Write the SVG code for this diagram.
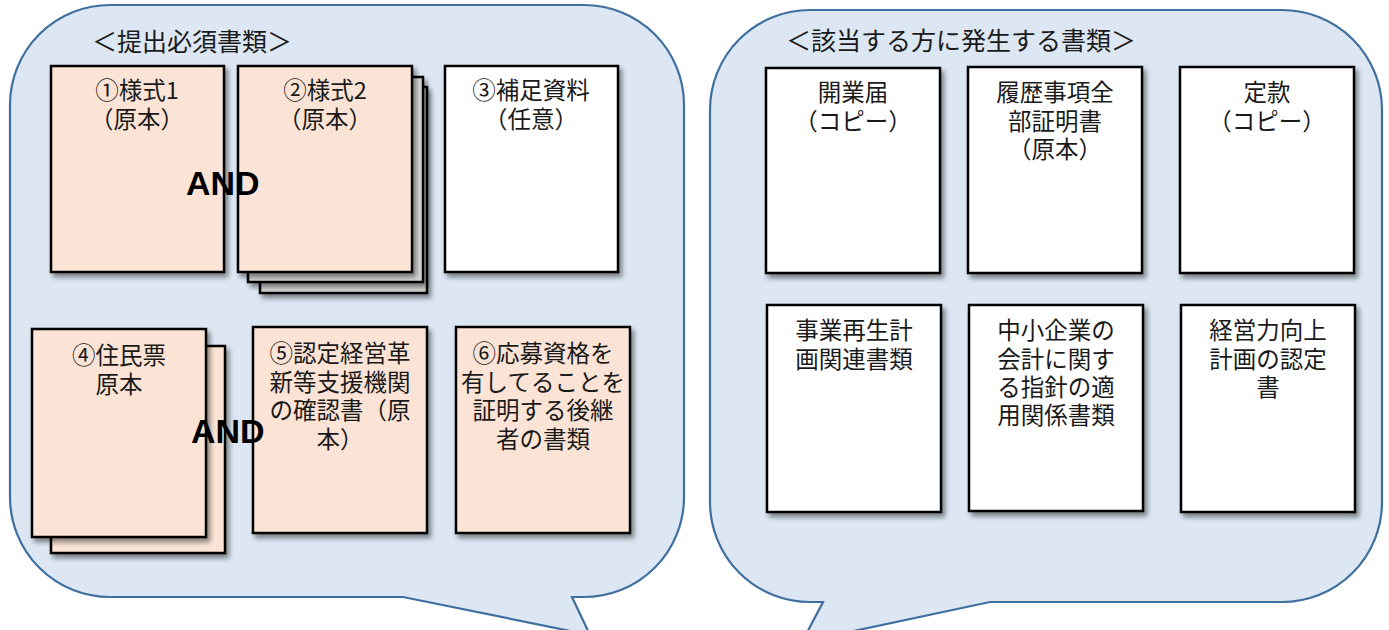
<svg xmlns="http://www.w3.org/2000/svg" width="1389" height="630" viewBox="0 0 1389 630">
<defs>
<filter id="sh" x="-10%" y="-10%" width="130%" height="130%">
<feDropShadow dx="3" dy="4" stdDeviation="2.5" flood-color="#000" flood-opacity="0.45"/>
</filter>
<style>
.bubble{fill:#dce7f3;stroke:#3f6f9f;stroke-width:2.2}
.peach{fill:#fbe4d6;stroke:#000;stroke-width:2.5;filter:url(#sh)}
.white{fill:#fff;stroke:#000;stroke-width:2.5;filter:url(#sh)}
.gray{fill:#d6d6d6;stroke:#000;stroke-width:2.5;filter:url(#sh)}
.t{font-family:"Noto Sans CJK JP","Noto Sans CJK SC",sans-serif;font-size:23.5px;fill:#1a1a1a;text-anchor:middle}
.title{font-family:"Noto Sans CJK JP","Noto Sans CJK SC",sans-serif;font-size:25px;fill:#1a1a1a}
.and{font-family:"Liberation Sans",Arial,sans-serif;font-weight:bold;font-size:34px;fill:#000}
</style>
</defs>
<rect width="1389" height="630" fill="#fff"/>
<g id="bubble-left">
<path class="bubble" d="M 110,5 H 584 A 100 100 0 0 1 684 105 V 497 A 100 100 0 0 1 584 597 H 572 L 590 635 L 403 597 H 110 A 100 100 0 0 1 10 497 V 105 A 100 100 0 0 1 110 5 Z"/>
<text class="title" x="92" y="51">＜提出必須書類＞</text>
</g>
<g id="bubble-right">
<path class="bubble" d="M 810,10 H 1282 A 100 100 0 0 1 1382 110 V 502 A 100 100 0 0 1 1282 602 H 990 L 802 642 L 823 602 H 810 A 100 100 0 0 1 710 502 V 110 A 100 100 0 0 1 810 10 Z"/>
<text class="title" x="786" y="50">＜該当する方に発生する書類＞</text>
</g>
<g id="connectors"></g>
<g id="node-1">
<rect class="peach" x="51" y="66" width="173" height="206"/>
<text class="t" x="137" y="99">①様式1</text>
<text class="t" x="137" y="128">（原本）</text>
</g>
<g id="node-2">
<rect class="gray" x="260" y="87" width="167" height="206"/>
<rect class="gray" x="248" y="77" width="175" height="205"/>
<rect class="peach" x="238" y="66" width="174" height="206"/>
<text class="t" x="325" y="99">②様式2</text>
<text class="t" x="325" y="128">（原本）</text>
</g>
<g id="node-3">
<rect class="white" x="445" y="66" width="173" height="206"/>
<text class="t" x="531" y="99">③補足資料</text>
<text class="t" x="531" y="128">（任意）</text>
</g>
<g id="node-4">
<rect class="peach" x="51" y="346" width="174" height="207"/>
<rect class="peach" x="32" y="329" width="174" height="208"/>
<text class="t" x="119" y="364">④住民票</text>
<text class="t" x="119" y="393">原本</text>
</g>
<g id="node-5">
<rect class="peach" x="253" y="327" width="174" height="206"/>
<text class="t" x="340" y="362">⑤認定経営革</text>
<text class="t" x="340" y="391">新等支援機関</text>
<text class="t" x="340" y="419">の確認書（原</text>
<text class="t" x="340" y="448">本）</text>
</g>
<g id="node-6">
<rect class="peach" x="456" y="327" width="174" height="206"/>
<text class="t" x="543" y="362">⑥応募資格を</text>
<text class="t" x="543" y="391">有してることを</text>
<text class="t" x="543" y="419">証明する後継</text>
<text class="t" x="543" y="448">者の書類</text>
</g>
<g id="node-kaigyo">
<rect class="white" x="766" y="68" width="174" height="205"/>
<text class="t" x="853" y="101">開業届</text>
<text class="t" x="853" y="130">（コピー）</text>
</g>
<g id="node-rireki">
<rect class="white" x="968" y="67" width="174" height="206"/>
<text class="t" x="1055" y="101">履歴事項全</text>
<text class="t" x="1055" y="130">部証明書</text>
<text class="t" x="1055" y="158">（原本）</text>
</g>
<g id="node-teikan">
<rect class="white" x="1180" y="67" width="174" height="206"/>
<text class="t" x="1267" y="101">定款</text>
<text class="t" x="1267" y="130">（コピー）</text>
</g>
<g id="node-saisei">
<rect class="white" x="767" y="305" width="174" height="207"/>
<text class="t" x="854" y="339">事業再生計</text>
<text class="t" x="854" y="368">画関連書類</text>
</g>
<g id="node-chusho">
<rect class="white" x="969" y="305" width="174" height="206"/>
<text class="t" x="1056" y="339">中小企業の</text>
<text class="t" x="1056" y="368">会計に関す</text>
<text class="t" x="1056" y="396">る指針の適</text>
<text class="t" x="1056" y="424">用関係書類</text>
</g>
<g id="node-keiei">
<rect class="white" x="1181" y="305" width="174" height="207"/>
<text class="t" x="1268" y="339">経営力向上</text>
<text class="t" x="1268" y="368">計画の認定</text>
<text class="t" x="1268" y="396">書</text>
</g>
<g id="and-labels">
<text class="and" x="186" y="195">AND</text>
<text class="and" x="191" y="443">AND</text>
</g>
</svg>
